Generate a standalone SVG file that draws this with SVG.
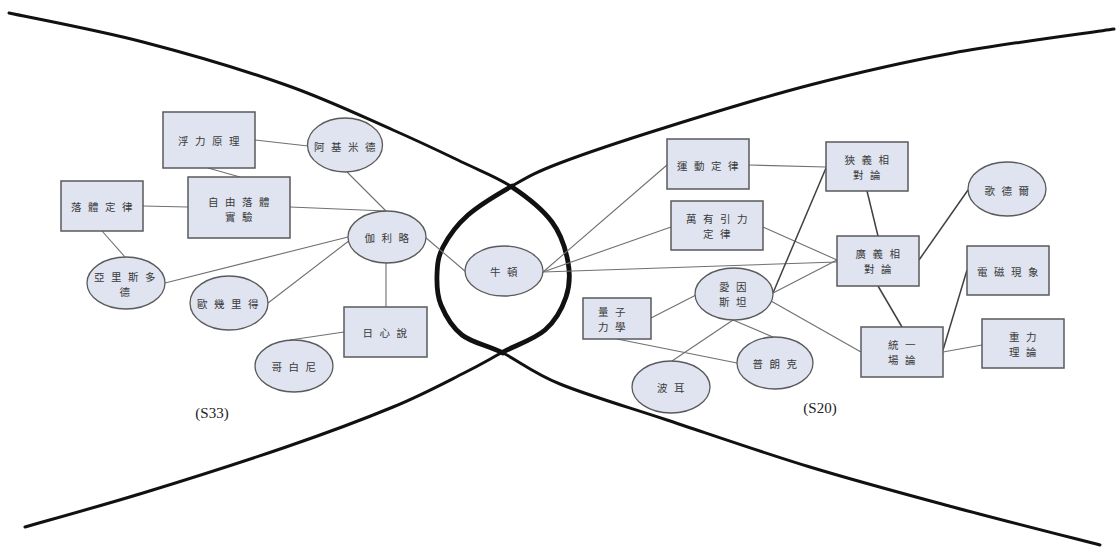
<svg xmlns="http://www.w3.org/2000/svg" width="1117" height="548" viewBox="0 0 1117 548">
  <style>
    .box { fill: #dfe4f0; stroke: #5a5a5a; stroke-width: 1.5; }
    .oval { fill: #dfe4f0; stroke: #5a5a5a; stroke-width: 1.3; }
    .lbl { font-family: "Noto Sans CJK TC", "Noto Sans CJK SC", sans-serif; font-size: 10.5px; fill: #3a3a3a; letter-spacing: 6.5px; text-anchor: middle; dominant-baseline: central; }
    .tag { font-family: "Liberation Serif", serif; font-size: 15px; fill: #222; text-anchor: middle; dominant-baseline: central; }
    .link { stroke: #707070; stroke-width: 1.1; fill: none; }
    .link-dark { stroke: #404040; stroke-width: 1.5; fill: none; }
    .arc { stroke: #111; stroke-width: 3; fill: none; stroke-linecap: round; }
    .arc-bold { stroke: #111; stroke-width: 4.8; fill: none; stroke-linecap: round; }
  </style>

  <!-- the two sweeping branches; the loop between the crossings is drawn heavier -->
  <g id="branches">
    <path class="arc" d="M9,13 C31.3,17.8 96.8,30 143,42 C189.2,54 244.3,70.3 286,85 C327.7,99.7 363.3,117 393,130 C422.7,143 444.2,153.5 464,163 C483.8,172.5 497.3,177.2 512,187"/>
    <path class="arc-bold" d="M512,187 C526.7,196.8 542.7,209.5 552,222 C561.3,234.5 565.7,249.5 568,262 C570.3,274.5 569.8,285.7 566,297 C562.2,308.3 555.5,320.8 545,330 C534.5,339.2 516.5,344.8 503,352"/>
    <path class="arc" d="M503,352 C489.5,359.2 482.3,363.8 464,373 C445.7,382.2 422.7,394.7 393,407 C363.3,419.3 327.7,432.7 286,447 C244.3,461.3 186.5,479.7 143,493 C99.5,506.3 44.7,521.3 25,527"/>

    <path class="arc" d="M1114,29 C1087.2,33 1003.7,43.7 953,53 C902.3,62.3 857.7,72.7 810,85 C762.3,97.3 708.7,114 667,127 C625.3,140 585.8,153.2 560,163 C534.2,172.8 527.3,177.3 512,186"/>
    <path class="arc-bold" d="M512,186 C496.7,194.7 479.5,204.8 468,215 C456.5,225.2 448.2,237 443,247 C437.8,257 437.3,265.3 437,275 C436.7,284.7 436.8,295 441,305 C445.2,315 451.7,327 462,335 C472.3,343 486.7,344.8 503,353"/>
    <path class="arc" d="M503,353 C519.3,361.2 532.7,372.8 560,384 C587.3,395.2 625.3,406.2 667,420 C708.7,433.8 762.3,452.5 810,467 C857.7,481.5 904.7,494 953,507 C1001.3,520 1075.5,538.7 1100,545"/>
  </g>

  <!-- connectors between concepts -->
  <g id="connectors">
    <line class="link" x1="255" y1="140" x2="308" y2="146"/>
    <line class="link" x1="208" y1="168" x2="240" y2="177"/>
    <line class="link" x1="143" y1="206" x2="188" y2="207"/>
    <line class="link" x1="290" y1="207" x2="386" y2="211"/>
    <line class="link" x1="347" y1="172" x2="386" y2="211"/>
    <line class="link" x1="102" y1="231" x2="125" y2="257"/>
    <line class="link" x1="165" y1="283" x2="348" y2="237"/>
    <line class="link" x1="268" y1="303" x2="350" y2="240"/>
    <line class="link" x1="386" y1="263" x2="386" y2="307"/>
    <line class="link" x1="344" y1="332" x2="290" y2="340"/>
    <line class="link" x1="425" y1="237" x2="466" y2="272"/>

    <line class="link" x1="543" y1="272" x2="667" y2="165"/>
    <line class="link" x1="543" y1="272" x2="671" y2="227"/>
    <line class="link" x1="543" y1="272" x2="837" y2="262"/>
    <line class="link" x1="749" y1="165" x2="826" y2="167"/>
    <line class="link" x1="763" y1="227" x2="837" y2="260"/>
    <line class="link-dark" x1="867" y1="191" x2="878" y2="236"/>
    <line class="link-dark" x1="773" y1="293" x2="826" y2="168"/>
    <line class="link" x1="773" y1="293" x2="837" y2="260"/>
    <line class="link" x1="771" y1="301" x2="861" y2="352"/>
    <line class="link-dark" x1="919" y1="260" x2="968" y2="190"/>
    <line class="link-dark" x1="878" y1="286" x2="902" y2="327"/>
    <line class="link-dark" x1="943" y1="350" x2="967" y2="270"/>
    <line class="link" x1="943" y1="352" x2="982" y2="345"/>
    <line class="link" x1="651" y1="318" x2="696" y2="295"/>
    <line class="link" x1="733" y1="320" x2="672" y2="361"/>
    <line class="link" x1="733" y1="320" x2="773" y2="337"/>
    <line class="link" x1="617" y1="339" x2="737" y2="363"/>
  </g>

  <!-- left cluster -->
  <g id="n-fuli"><rect class="box" x="163" y="112" width="92" height="56"/><text class="lbl" x="212" y="140">浮力原理</text></g>
  <g id="n-archimedes"><ellipse class="oval" cx="345" cy="145" rx="37.5" ry="27"/><text class="lbl" x="348" y="146">阿基米德</text></g>
  <g id="n-fall-law"><rect class="box" x="61" y="181" width="82" height="50"/><text class="lbl" x="105" y="206">落體定律</text></g>
  <g id="n-free-fall"><rect class="box" x="188" y="177" width="102" height="61"/><text class="lbl" y="201"><tspan x="242">自由落體</tspan><tspan x="242" dy="15.3">實驗</tspan></text></g>
  <g id="n-galileo"><ellipse class="oval" cx="387" cy="237" rx="39" ry="26"/><text class="lbl" x="390" y="237">伽利略</text></g>
  <g id="n-aristotle"><ellipse class="oval" cx="126" cy="283" rx="39" ry="26"/><text class="lbl" y="276"><tspan x="128">亞里斯多</tspan><tspan x="128" dy="15.3">德</tspan></text></g>
  <g id="n-euclid"><ellipse class="oval" cx="229" cy="303" rx="39" ry="27"/><text class="lbl" x="231" y="303">歐幾里得</text></g>
  <g id="n-helio"><rect class="box" x="344" y="307" width="83" height="50"/><text class="lbl" x="388" y="332">日心說</text></g>
  <g id="n-copernicus"><ellipse class="oval" cx="294" cy="366" rx="39" ry="26"/><text class="lbl" x="297" y="366">哥白尼</text></g>
  <text class="tag" x="212" y="413">(S33)</text>

  <!-- centre -->
  <g id="n-newton"><ellipse class="oval" cx="504" cy="271" rx="39" ry="25"/><text class="lbl" x="507" y="271">牛頓</text></g>

  <!-- right cluster -->
  <g id="n-motion"><rect class="box" x="667" y="139" width="82" height="50"/><text class="lbl" x="711" y="165">運動定律</text></g>
  <g id="n-gravitation"><rect class="box" x="671" y="201" width="92" height="49"/><text class="lbl" y="218"><tspan x="720">萬有引力</tspan><tspan x="720" dy="15.3">定律</tspan></text></g>
  <g id="n-special"><rect class="box" x="826" y="142" width="82" height="49"/><text class="lbl" y="159"><tspan x="870">狹義相</tspan><tspan x="870" dy="15.3">對論</tspan></text></g>
  <g id="n-godel"><ellipse class="oval" cx="1007" cy="189" rx="39" ry="27"/><text class="lbl" x="1010" y="190">歌德爾</text></g>
  <g id="n-general"><rect class="box" x="837" y="236" width="82" height="50"/><text class="lbl" y="253"><tspan x="881">廣義相</tspan><tspan x="881" dy="15.3">對論</tspan></text></g>
  <g id="n-em"><rect class="box" x="967" y="246" width="82" height="49"/><text class="lbl" x="1011" y="271">電磁現象</text></g>
  <g id="n-einstein"><ellipse class="oval" cx="734" cy="294" rx="39" ry="26"/><text class="lbl" y="286"><tspan x="736">愛因</tspan><tspan x="736" dy="15.3">斯坦</tspan></text></g>
  <g id="n-quantum"><rect class="box" x="583" y="298" width="68" height="41"/><text class="lbl" y="311"><tspan x="615">量子</tspan><tspan x="615" dy="15.3">力學</tspan></text></g>
  <g id="n-planck"><ellipse class="oval" cx="775" cy="363" rx="38" ry="26"/><text class="lbl" x="778" y="363">普朗克</text></g>
  <g id="n-bohr"><ellipse class="oval" cx="671" cy="387" rx="39" ry="26"/><text class="lbl" x="674" y="387">波耳</text></g>
  <g id="n-unified"><rect class="box" x="861" y="327" width="82" height="50"/><text class="lbl" y="344"><tspan x="905">統一</tspan><tspan x="905" dy="15.3">場論</tspan></text></g>
  <g id="n-gravity"><rect class="box" x="982" y="319" width="82" height="49"/><text class="lbl" y="336"><tspan x="1026">重力</tspan><tspan x="1026" dy="15.3">理論</tspan></text></g>
  <text class="tag" x="820" y="408">(S20)</text>
</svg>
